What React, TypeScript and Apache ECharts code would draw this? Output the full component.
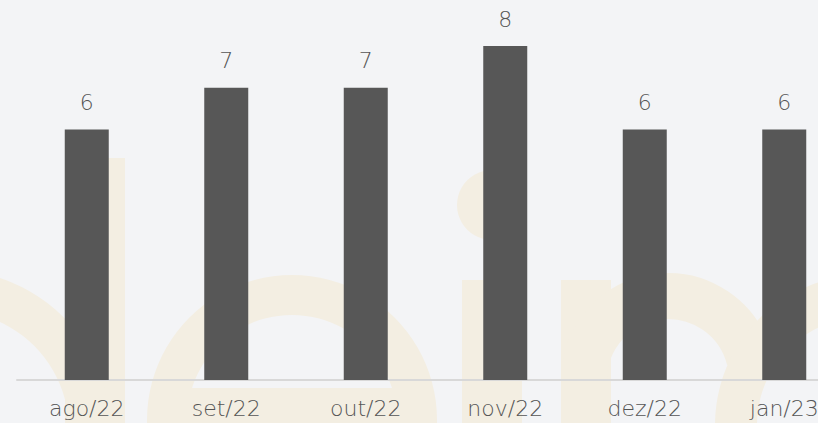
import React, { useEffect, useRef } from "react";
import * as echarts from "echarts";

const categories = ["ago/22", "set/22", "out/22", "nov/22", "dez/22", "jan/23"];
const values = [6, 7, 7, 8, 6, 6];

const W = "#f3eee2";
const FONT = "'DejaVu Sans', sans-serif";

export default function App() {
  const ref = useRef<HTMLDivElement>(null);
  useEffect(() => {
    const chart = echarts.init(ref.current!, undefined, { renderer: "svg" });
    const z = -10;
    chart.setOption({
      animation: false,
      backgroundColor: "#f3f4f6",
      graphic: {
        elements: [
          { type: "rect", z, shape: { x: 65, y: 158, width: 60, height: 265 }, style: { fill: W } },
          { type: "ring", z, shape: { cx: -50, cy: 430, r: 160, r0: 119 }, style: { fill: W } },
          { type: "ring", z, shape: { cx: 292, cy: 420, r: 145, r0: 105 }, style: { fill: W } },
          { type: "rect", z, shape: { x: 185, y: 388, width: 240, height: 35 }, style: { fill: W } },
          { type: "circle", z, shape: { cx: 492, cy: 205, r: 35 }, style: { fill: W } },
          { type: "rect", z, shape: { x: 462, y: 280, width: 60, height: 143 }, style: { fill: W } },
          { type: "rect", z, shape: { x: 561, y: 280, width: 50, height: 143 }, style: { fill: W } },
          { type: "arc", z, shape: { cx: 668, cy: 380, r: 84, startAngle: Math.PI, endAngle: Math.PI * 2 - 0.25, clockwise: true }, style: { stroke: W, lineWidth: 46, fill: "none" } },
          { type: "ring", z, shape: { cx: 865, cy: 425, r: 150, r0: 108 }, style: { fill: W } },
        ],
      },
      grid: { left: 17, right: 0, top: 46, bottom: 43 },
      xAxis: {
        type: "category",
        data: categories,
        axisLine: { show: true, lineStyle: { color: "#d8d8d8", width: 2 } },
        axisTick: { show: false },
        axisLabel: { color: "#555555", fontSize: 22, fontFamily: FONT, fontWeight: 200, margin: 17 },
      },
      yAxis: {
        type: "value",
        min: 0,
        max: 8,
        show: false,
        splitLine: { show: false },
      },
      series: [
        {
          type: "bar",
          data: values,
          barWidth: 44,
          itemStyle: { color: "#575757" },
          label: {
            show: true,
            position: "top",
            distance: 16,
            color: "#555555",
            fontSize: 22,
            fontFamily: FONT,
            fontWeight: 200,
          },
        },
      ],
    });
    return () => chart.dispose();
  }, []);
  return (
    <div style={{ position: "fixed", left: 0, top: 0, width: 818, height: 423, overflow: "hidden", background: "#f3f4f6" }}>
      <div ref={ref} style={{ width: 854, height: 423 }} />
    </div>
  );
}
